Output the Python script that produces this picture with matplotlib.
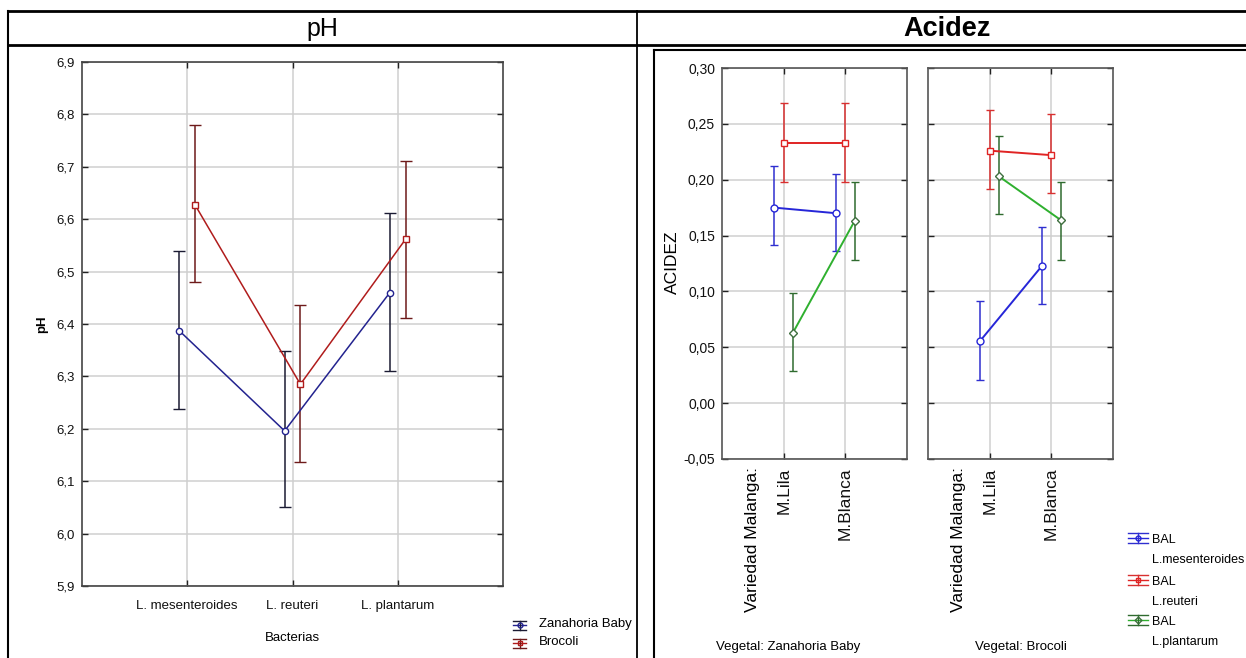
import matplotlib
matplotlib.use("Agg")
import matplotlib.pyplot as plt
from matplotlib import font_manager as fm
from matplotlib.lines import Line2D
from matplotlib.transforms import Affine2D
from matplotlib.ticker import FuncFormatter
import numpy as np

# ---------------- data ----------------
bacterias = ["L. mesenteroides", "L. reuteri", "L. plantarum"]
vegetales = ["Zanahoria Baby", "Brocoli"]

ph_zanahoria = [6.387, 6.196, 6.460]
ph_zanahoria_lo = [6.237, 6.050, 6.311]
ph_zanahoria_hi = [6.540, 6.348, 6.611]
ph_brocoli = [6.627, 6.285, 6.562]
ph_brocoli_lo = [6.480, 6.137, 6.412]
ph_brocoli_hi = [6.779, 6.436, 6.712]

variedades = ["M.Lila", "M.Blanca"]
bal = ["L.mesenteroides", "L.reuteri", "L.plantarum"]

# acidez por vegetal: filas = BAL, columnas = variedad (M.Lila, M.Blanca)
acidez_zanahoria = [[0.175, 0.170], [0.233, 0.233], [0.063, 0.163]]
acidez_zanahoria_lo = [[0.142, 0.136], [0.198, 0.198], [0.029, 0.128]]
acidez_zanahoria_hi = [[0.212, 0.205], [0.269, 0.269], [0.099, 0.198]]
acidez_brocoli = [[0.056, 0.123], [0.226, 0.222], [0.203, 0.164]]
acidez_brocoli_lo = [[0.021, 0.089], [0.192, 0.188], [0.169, 0.128]]
acidez_brocoli_hi = [[0.091, 0.158], [0.262, 0.259], [0.239, 0.198]]

# ---------------- fonts ----------------
ARIAL = ['Liberation Sans', 'DejaVu Sans']
_installed = {f.name for f in fm.fontManager.ttflist}
_narrow = next((n for n in ['Liberation Sans Narrow', 'Arial Narrow', 'Nimbus Sans Narrow']
                if n in _installed), None)
if _narrow:
    NARROW = [_narrow] + ARIAL
    NS = 11
else:
    NARROW = ARIAL
    NS = 9.5
plt.rcParams['font.family'] = NARROW

# ---------------- figure ----------------
W, H = 1246, 658
fig = plt.figure(figsize=(W / 100, H / 100), dpi=100)
px = Affine2D().scale(1 / W, -1 / H).translate(0, 1) + fig.transFigure


def axes_px(x0, y0, x1, y1):
    return fig.add_axes([x0 / W, 1 - y1 / H, (x1 - x0) / W, (y1 - y0) / H])


def hline(x0, x1, y, lw=1.5, color='black'):
    fig.add_artist(Line2D([x0, x1], [y, y], lw=lw, color=color, transform=px))


def vline(x, y0, y1, lw=1.5, color='black'):
    fig.add_artist(Line2D([x, x], [y0, y1], lw=lw, color=color, transform=px))


def comma_fmt(decimals):
    return FuncFormatter(lambda v, p: f"{v:.{decimals}f}".replace('.', ','))


def style_axes(ax, spine_color):
    for s in ax.spines.values():
        s.set_color(spine_color)
        s.set_linewidth(1.2)
    ax.grid(True, color='#cfcfcf', lw=1.1)
    ax.set_axisbelow(True)
    ax.tick_params(direction='in', length=4, width=1, color='#222222',
                   top=True, right=True, labelsize=NS, labelcolor='#111111')


def legend_glyph(xc, yc, w, h, line_color, err_color, marker, mec, ms):
    hline(xc - w / 2, xc + w / 2, yc, lw=1.0, color=line_color)
    vline(xc, yc - h / 2, yc + h / 2, lw=1.0, color=err_color)
    hline(xc - w / 2, xc + w / 2, yc - h / 2, lw=1.0, color=err_color)
    hline(xc - w / 2, xc + w / 2, yc + h / 2, lw=1.0, color=err_color)
    fig.add_artist(Line2D([xc], [yc], marker=marker, mfc='none', mec=mec,
                          ms=ms, mew=1.0, transform=px))


# ---------------- table frame ----------------
hline(8, W, 11, lw=2.0)
hline(8, W, 45, lw=2.0)
vline(8, 11, H, lw=1.5)
vline(637, 11, H, lw=1.3)
hline(654, W, 50, lw=1.5)
vline(654, 50, H, lw=1.5)

fig.text(322 / W, 1 - 29 / H, "pH", fontsize=18, family=ARIAL,
         ha='center', va='center')
fig.text(947 / W, 1 - 29 / H, "Acidez", fontsize=19.5, family=ARIAL,
         fontweight='bold', ha='center', va='center')

# ---------------- pH panel ----------------
ax = axes_px(82, 62, 503, 586)
style_axes(ax, '#444444')
xpos = np.arange(1, len(bacterias) + 1)
series_ph = [
    (ph_zanahoria, ph_zanahoria_lo, ph_zanahoria_hi, -0.075, '#23238f', '#1b1b33', 'o'),
    (ph_brocoli, ph_brocoli_lo, ph_brocoli_hi, 0.075, '#b01c1c', '#6e1a1a', 's'),
]
for vals, lo, hi, off, lc, ec, mk in series_ph:
    v = np.array(vals)
    yerr = [v - np.array(lo), np.array(hi) - v]
    ax.errorbar(xpos + off, v, yerr=yerr, color=lc, ecolor=ec, lw=1.1,
                elinewidth=1.1, capsize=4.5, capthick=1.1, marker=mk,
                ms=4.5, mfc='white', mec=lc, mew=1.0, zorder=3)
ax.set_xlim(0, 4)
ax.set_ylim(5.9, 6.9)
ax.set_xticks(xpos)
ax.set_xticklabels(bacterias)
ax.set_yticks(np.round(np.arange(5.9, 6.901, 0.1), 1))
ax.yaxis.set_major_formatter(comma_fmt(1))
ax.tick_params(axis='x', pad=10)
ax.tick_params(axis='y', pad=5)

fig.text(42 / W, 1 - 324 / H, "pH", fontsize=NS, fontweight='bold',
         rotation=90, ha='center', va='center')
fig.text(292 / W, 1 - 641 / H, "Bacterias", fontsize=NS,
         ha='center', va='baseline')

leg_ph = [(vegetales[0], 627, '#23238f', '#1b1b33', 'o'),
          (vegetales[1], 645, '#b01c1c', '#6e1a1a', 's')]
for label, base, lc, ec, mk in leg_ph:
    legend_glyph(519.5, base - 2, 13, 9, lc, ec, mk, lc, 3.5)
    fig.text(539 / W, 1 - base / H, label, fontsize=NS, ha='left', va='baseline')

# ---------------- Acidez panels ----------------
bal_colors = [('#2626d8', '#2f2fd0', 'o', '#2626d8'),
              ('#e02424', '#d83030', 's', '#e02424'),
              ('#2fb02f', '#2f6b2f', 'D', '#3f6f3f')]
bal_offsets = [-0.15, 0.0, 0.15]
panels = [
    (722, 907, acidez_zanahoria, acidez_zanahoria_lo, acidez_zanahoria_hi,
     True, "Vegetal: " + vegetales[0], 788),
    (928, 1113, acidez_brocoli, acidez_brocoli_lo, acidez_brocoli_hi,
     False, "Vegetal: " + vegetales[1], 1021),
]
vpos = np.arange(1, len(variedades) + 1)
for x0, x1, vals, lo, hi, show_y, vlabel, vx in panels:
    axr = axes_px(x0, 68, x1, 459)
    style_axes(axr, '#555555')
    for i in range(len(bal)):
        lc, ec, mk, mec = bal_colors[i]
        v = np.array(vals[i])
        yerr = [v - np.array(lo[i]), np.array(hi[i]) - v]
        ms = 4.0 if mk == 'D' else 5.0
        axr.errorbar(vpos + bal_offsets[i], v, yerr=yerr, color=lc, ecolor=ec,
                     lw=1.4, elinewidth=1.1, capsize=3, capthick=1.1,
                     marker=mk, ms=ms, mfc='white', mec=mec, mew=1.0, zorder=3)
    axr.set_xlim(0, 3)
    axr.set_ylim(-0.05, 0.30)
    axr.set_yticks(np.round(np.arange(-0.05, 0.301, 0.05), 2))
    axr.yaxis.set_major_formatter(comma_fmt(2))
    axr.set_xticks(vpos)
    axr.set_xticklabels(variedades, rotation=90, ha='center', va='top',
                        family=ARIAL, fontsize=12.5)
    axr.tick_params(axis='x', pad=6)
    axr.tick_params(axis='y', pad=5, labelsize=NS + 0.5)
    if not show_y:
        axr.tick_params(axis='y', labelleft=False)
    axr.annotate("Variedad Malanga:", xy=(0.5, 0), xycoords=('data', 'axes fraction'),
                 xytext=(0, -6), textcoords='offset points', rotation=90,
                 ha='center', va='top', family=ARIAL, fontsize=12.5)
    fig.text(vx / W, 1 - 650 / H, vlabel, fontsize=NS, ha='center', va='baseline')

fig.text(672 / W, 1 - 262 / H, "ACIDEZ", fontsize=12.5, family=ARIAL,
         rotation=90, ha='center', va='center')

leg_bal = [(543, 563, 0), (585, 605, 1), (625, 645, 2)]
for b1, b2, i in leg_bal:
    lc, ec, mk, mec = bal_colors[i]
    legend_glyph(1137.5, b1 - 5, 20, 10, lc, ec, mk, mec, 3.5)
    fig.text(1152 / W, 1 - b1 / H, "BAL", fontsize=NS - 0.5, ha='left', va='baseline')
    fig.text(1152 / W, 1 - b2 / H, bal[i], fontsize=NS - 0.5, ha='left', va='baseline')

fig.savefig("out.png", dpi=100, facecolor='white')
